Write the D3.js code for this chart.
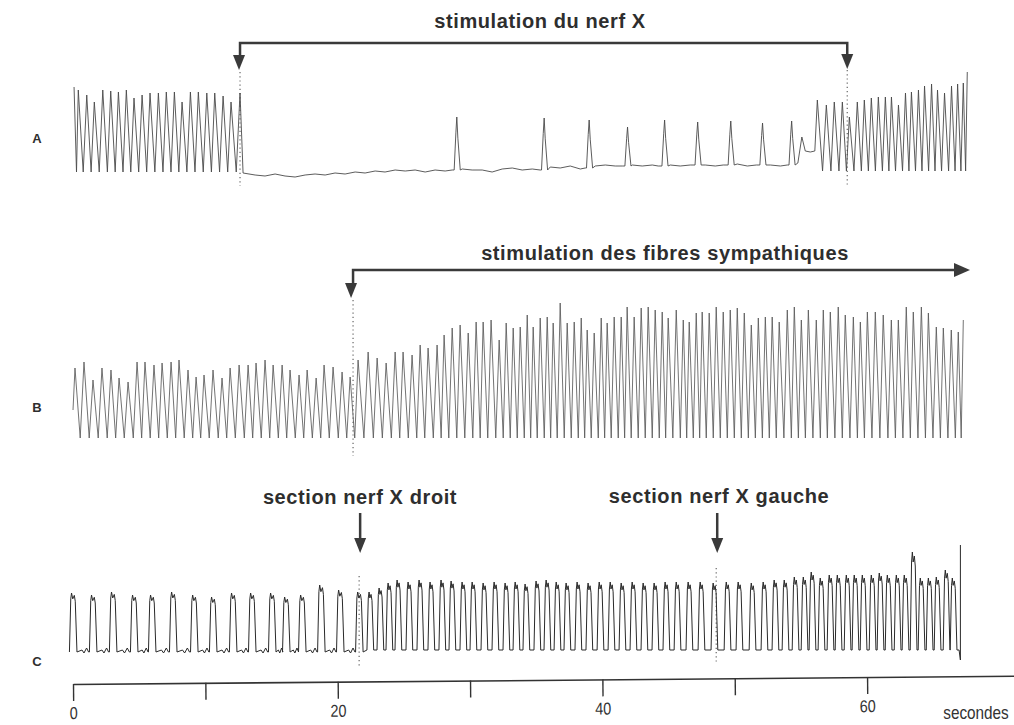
<!DOCTYPE html>
<html>
<head>
<meta charset="utf-8">
<script src="https://cdn.jsdelivr.net/npm/d3@7"></script>
<style>
  body { margin: 0; background: #fff; }
  svg { display: block; font-family: "Liberation Sans", Arial, sans-serif; }
</style>
</head>
<body>
<svg width="1014" height="725"></svg>
<script>
// ---- data (time in seconds, amplitude in trace units) ----

// trace A : vagus (nerf X) stimulation
var aStim = [12.62, 58.5];
var aPreT = [0.08, 0.40, 1.04, 1.61, 2.25, 2.85, 3.43, 4.03, 4.61, 5.22, 5.82, 6.45, 7.05, 7.66, 8.24, 8.87, 9.47, 10.11, 10.71, 11.34, 11.94, 12.62];
var aPreV = [88, 85, 80, 73, 85, 84, 83, 85, 77, 80, 82, 82, 83, 83, 73, 83, 83, 82, 82, 79, 73, 82];
var aRestT = [12.85, 13.76, 14.51, 15.27, 16.02, 16.78, 17.54, 18.29, 19.05, 19.80, 20.56, 21.32, 22.07, 22.83, 23.58, 24.34, 25.10, 25.85, 26.61, 27.36, 28.12, 28.65,
              29.41, 30.16, 30.92, 31.67, 32.43, 33.19, 33.94, 34.70, 35.30, 36.06, 36.81, 37.57, 38.33, 38.70, 39.46, 40.22, 40.97, 41.50,
              42.26, 43.01, 43.77, 44.22, 45.13, 45.88, 46.64, 47.77, 48.53, 49.13, 50.19, 50.95, 51.63, 52.69, 53.45, 53.97, 54.77, 55.07, 55.33, 55.71, 56.05];
var aRestV = [2, 0, -1, 1, -1, -2, 0, 1, 0, 2, 1, 3, 2, 4, 3, 5, 4, 5, 3, 5, 4, 5,
              6, 5, 5, 3, 6, 7, 5, 6, 5, 8, 7, 9, 6, 7, 9, 10, 9, 9,
              10, 9, 10, 9, 10, 9, 10, 10, 9, 10, 11, 9, 10, 10, 9, 10, 12, 38, 24, 23, 24];
var aSpikeT = [29.0, 35.6, 39.0, 41.9, 44.7, 47.2, 49.7, 52.1, 54.3];
var aSpikeV = [58, 57, 55, 48, 55, 53, 54, 52, 54];
var aPostT = [56.24, 56.92, 57.52, 58.13, 58.66, 59.26, 59.79, 60.32, 60.85, 61.38, 61.84, 62.37, 62.90, 63.35, 63.88, 64.34, 64.87, 65.32, 65.85, 66.38, 66.84, 67.27, 67.57];
var aPostV = [75, 70, 73, 73, 58, 73, 75, 77, 78, 78, 78, 70, 82, 83, 85, 89, 91, 85, 82, 89, 91, 92, 103];

// trace B : sympathetic fibres stimulation
var bStim = 21.16;
var bT = [0.15, 0.83, 1.51, 2.19, 2.87, 3.48, 4.16, 4.84, 5.44, 6.12, 6.73, 7.41, 8.01, 8.69, 9.30, 9.90, 10.58, 11.26, 11.87, 12.55,
          13.23, 13.83, 14.51, 15.12, 15.80, 16.40, 17.08, 17.69, 18.37, 18.97, 19.65, 20.33, 20.94,
          21.54, 22.30, 22.98, 23.66, 24.34, 24.94, 25.62, 26.23, 26.83, 27.51, 28.04, 28.65, 29.25, 29.86, 30.46, 30.99, 31.59, 32.20,
          32.73, 33.26, 33.79, 34.32, 34.77, 35.30, 35.83, 36.28, 36.81, 37.34, 37.87, 38.40, 38.85, 39.38, 39.91, 40.36, 40.89, 41.42,
          41.87, 42.40, 42.93, 43.46, 43.99, 44.52, 44.97, 45.58, 46.11, 46.56, 47.09, 47.54, 48.07, 48.60, 49.13, 49.66, 50.19, 50.72,
          51.25, 51.78, 52.31, 52.83, 53.36, 53.97, 54.50, 55.03, 55.56, 56.16, 56.69, 57.22, 57.82, 58.35, 58.96, 59.49, 60.02, 60.62,
          61.22, 61.83, 62.36, 62.96, 63.49, 64.10, 64.63, 65.23, 65.76, 66.36, 66.89, 67.27];
var bV = [72, 78, 60, 72, 70, 62, 58, 78, 78, 75, 77, 78, 80, 70, 63, 65, 70, 62, 72, 75,
          75, 77, 80, 75, 75, 70, 65, 70, 62, 75, 73, 68, 63,
          80, 88, 82, 77, 88, 88, 85, 95, 92, 95, 105, 112, 115, 107, 118, 118, 120, 100,
          117, 112, 113, 125, 113, 122, 123, 117, 137, 117, 118, 122, 110, 107, 122, 117, 123, 123,
          133, 123, 132, 133, 130, 128, 122, 130, 120, 118, 127, 128, 127, 133, 128, 130, 132, 127,
          115, 122, 123, 123, 118, 130, 133, 120, 130, 120, 130, 128, 133, 125, 123, 118, 128, 128,
          125, 120, 120, 133, 128, 133, 127, 113, 112, 110, 108, 120];

// trace C : sections of the right and left vagus
var cSect = [21.62, 48.6];
var cPreT = [0.00, 1.51, 3.02, 4.61, 5.97, 7.56, 9.15, 10.58, 12.09, 13.53, 15.04, 16.10, 17.31, 18.75, 20.18, 21.62];
var cPreV = [59, 57, 60, 57, 57, 60, 57, 55, 59, 59, 59, 55, 57, 67, 62, 60];
var cPostT = [22.45, 23.21, 23.89, 24.57, 25.40, 26.23, 27.06, 27.89, 28.65, 29.48, 30.24, 31.07, 31.90, 32.73, 33.49, 34.24,
              35.07, 35.83, 36.59, 37.34, 38.17, 39.00, 39.84, 40.67, 41.50, 42.33, 43.16, 43.99, 44.82, 45.66, 46.56,
              47.47, 48.45, 49.44, 50.34, 51.33, 52.23, 53.06, 53.82, 54.58, 55.26, 55.86, 56.54, 57.22, 57.83, 58.51,
              59.11, 59.72, 60.40, 61.00, 61.61, 62.29, 62.89, 63.50, 64.10, 64.71, 65.31, 65.99, 66.52];
var cPostV = [60, 64, 69, 72, 70, 72, 70, 72, 71, 70, 70, 69, 70, 69, 70, 68,
              71, 72, 70, 69, 70, 69, 70, 70, 69, 70, 69, 69, 70, 70, 70,
              70, 69, 70, 70, 69, 70, 72, 72, 75, 75, 80, 74, 77, 77, 77,
              77, 77, 77, 79, 77, 77, 77, 100, 74, 74, 75, 82, 74];
var cEnd = [67.05, -8, 107];

// time axis
var tickValues = [0, 10, 20, 30, 40, 50, 60];
var tickLabels = ["0", "", "20", "", "40", "", "60"];

// ---- drawing ----
var svg = d3.select("svg");

var x = d3.scaleLinear().domain([0, 71.1]).range([73, 1014]);
var yA = d3.scaleLinear().domain([0, 100]).range([175, 75]);
var yB = d3.scaleLinear().domain([0, 100]).range([440, 340]);
var yC = d3.scaleLinear().domain([0, 100]).range([652, 552]);

// alternate peaks and troughs
function sawPoints(times, peaks, floor) {
  var pts = [];
  times.forEach(function(t, i) {
    pts.push([t, peaks[i]]);
    if (i < times.length - 1) {
      pts.push([t + (times[i + 1] - t) * 0.58, floor]);
    }
  });
  return pts;
}

// flat topped pulses with the small notch on top
function squarePoints(times, tops, floor, half) {
  var pts = [];
  times.forEach(function(t, i) {
    var p = tops[i];
    pts.push([t - half - 0.1, floor]);
    pts.push([t - half, p * 0.9]);
    pts.push([t - half + 0.06, p]);
    pts.push([t - 0.02, p * 0.9]);
    pts.push([t + half - 0.07, p * 0.96]);
    pts.push([t + half, p * 0.86]);
    pts.push([t + half + 0.13, floor]);
    var next = times[i + 1];
    if (next !== undefined && next - t > 1) {
      // little wiggles on the diastolic baseline
      pts.push([t + (next - t) * 0.45, floor + 2]);
      pts.push([t + (next - t) * 0.55, floor - 1]);
      pts.push([t + (next - t) * 0.68, floor + 4]);
      pts.push([t + (next - t) * 0.78, floor]);
    }
  });
  return pts;
}

// trace A
var aPts = sawPoints(aPreT, aPreV, 3);
var rest = aRestT.map(function(t, i) { return [t, aRestV[i]]; });
aSpikeT.forEach(function(t, i) {
  var b = aRestV[d3.bisectLeft(aRestT, t) - 1];
  var p = aSpikeV[i];
  rest.push([t - 0.2, b], [t - 0.07, b + (p - b) * 0.7], [t, p], [t + 0.08, b + (p - b) * 0.6], [t + 0.26, b]);
});
rest.sort(function(a, b) { return a[0] - b[0]; });
aPts = aPts.concat(rest).concat(sawPoints(aPostT, aPostV, 4));

var bPts = [[0, 30]].concat(sawPoints(bT, bV, 2));

var cPts = squarePoints(cPreT, cPreV, 0, 0.17)
  .concat(squarePoints(cPostT, cPostV, 2, 0.14))
  .concat([[cEnd[0] - 0.1, 2], [cEnd[0], cEnd[1]], [cEnd[0], cEnd[2]]]);

function lineFor(y) {
  return d3.line().x(function(d) { return x(d[0]); }).y(function(d) { return y(d[1]); });
}

// dotted event markers
var marks = [
  { t: aStim[0], y0: 72, y1: 186 },
  { t: aStim[1], y0: 70, y1: 186 },
  { t: bStim, y0: 300, y1: 456 },
  { t: cSect[0], y0: 576, y1: 667 },
  { t: cSect[1], y0: 568, y1: 662 }
];
svg.append("g").selectAll("line").data(marks).enter().append("line")
  .attr("x1", function(d) { return x(d.t); })
  .attr("x2", function(d) { return x(d.t); })
  .attr("y1", function(d) { return d.y0; })
  .attr("y2", function(d) { return d.y1; })
  .attr("stroke", "#666")
  .attr("stroke-width", 1.2)
  .attr("stroke-dasharray", "1.2,3");

svg.append("path").attr("d", lineFor(yA)(aPts))
  .attr("fill", "none").attr("stroke", "#4a4a4a").attr("stroke-width", 0.9);
svg.append("path").attr("d", lineFor(yB)(bPts))
  .attr("fill", "none").attr("stroke", "#5a5a5a").attr("stroke-width", 0.85);
svg.append("path").attr("d", lineFor(yC)(cPts))
  .attr("fill", "none").attr("stroke", "#2a2a2a").attr("stroke-width", 1);

// arrows
function downArrow(cx, tip) {
  return "M" + (cx - 6) + "," + (tip - 15) + "L" + (cx + 6) + "," + (tip - 15) + "L" + cx + "," + tip + "Z";
}
var ink = "#3a3a3a";
var xa0 = x(aStim[0]), xa1 = x(aStim[1]);
svg.append("path").attr("d", "M" + xa0 + ",57V43H" + xa1 + "V57")
  .attr("fill", "none").attr("stroke", ink).attr("stroke-width", 2.5);
svg.append("path").attr("d", downArrow(xa0 - 1, 70)).attr("fill", ink);
svg.append("path").attr("d", downArrow(xa1, 69)).attr("fill", ink);

var xb = x(bStim);
svg.append("path").attr("d", "M" + xb + ",284V270H956")
  .attr("fill", "none").attr("stroke", ink).attr("stroke-width", 2.5);
svg.append("path").attr("d", downArrow(xb - 2, 298)).attr("fill", ink);
svg.append("path").attr("d", "M954,263L970,270L954,277Z").attr("fill", ink);

cSect.forEach(function(t) {
  var cx = x(t) + 1;
  svg.append("line").attr("x1", cx).attr("x2", cx).attr("y1", 513).attr("y2", 538)
    .attr("stroke", ink).attr("stroke-width", 2.5);
  svg.append("path").attr("d", downArrow(cx, 553)).attr("fill", ink);
});

// titles
var titles = [
  { text: "stimulation du nerf X", x: 540, y: 28 },
  { text: "stimulation des fibres sympathiques", x: 665, y: 260 },
  { text: "section nerf X droit", x: 360, y: 504 },
  { text: "section nerf X gauche", x: 719, y: 503 }
];
svg.append("g").selectAll("text").data(titles).enter().append("text")
  .attr("x", function(d) { return d.x; })
  .attr("y", function(d) { return d.y; })
  .attr("text-anchor", "middle")
  .attr("font-size", 20)
  .attr("font-weight", "bold")
  .attr("letter-spacing", 0.6)
  .attr("fill", "#2e2e2e")
  .text(function(d) { return d.text; });

var rows = [{ k: "A", y: 143 }, { k: "B", y: 412 }, { k: "C", y: 666 }];
svg.append("g").selectAll("text").data(rows).enter().append("text")
  .attr("x", 37).attr("y", function(d) { return d.y; })
  .attr("text-anchor", "middle").attr("font-size", 13).attr("font-weight", "bold")
  .attr("fill", "#2e2e2e")
  .text(function(d) { return d.k; });

// time axis (the paper is a little tilted)
var axis = d3.axisBottom(x)
  .tickValues(tickValues)
  .tickFormat(function(d, i) { return tickLabels[i]; })
  .tickSize(17)
  .tickSizeOuter(0)
  .tickPadding(6);
var gAxis = svg.append("g")
  .attr("transform", "translate(0,684) rotate(-0.5,73,0)")
  .call(axis);
gAxis.select(".domain").attr("stroke", "#333").attr("stroke-width", 1.6);
gAxis.selectAll(".tick line").attr("stroke", "#333").attr("stroke-width", 1.4);
gAxis.selectAll(".tick text")
  .attr("font-size", 17).attr("fill", "#333")
  .attr("transform", "scale(0.85,1)");
svg.append("text")
  .attr("transform", "translate(976,719) scale(0.85,1)")
  .attr("text-anchor", "middle")
  .attr("font-size", 18).attr("fill", "#333")
  .text("secondes");
</script>
</body>
</html>
